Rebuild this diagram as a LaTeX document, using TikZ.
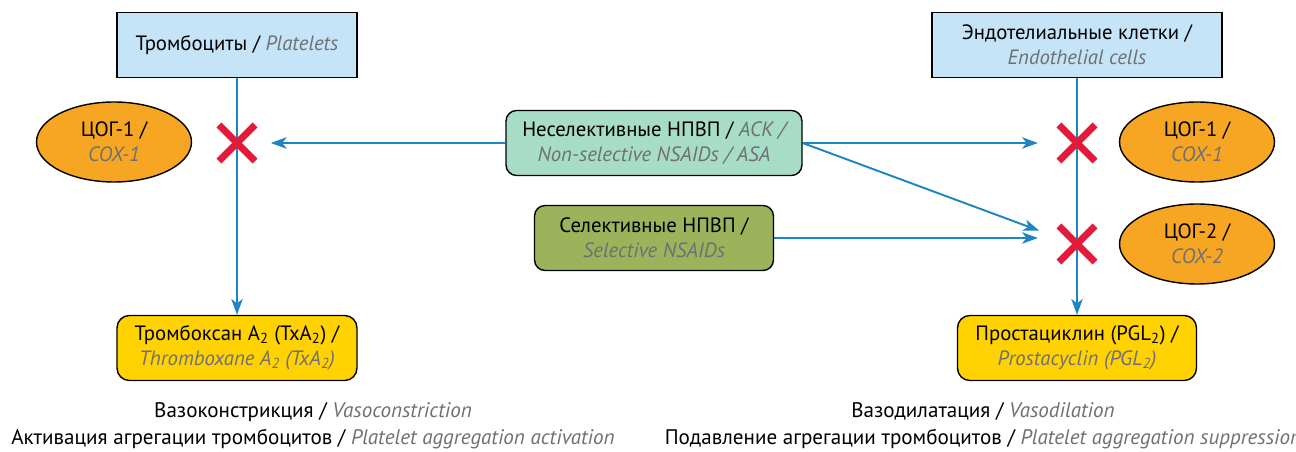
\documentclass[tikz,border=0pt]{standalone}
\usepackage{fontspec}
\setmainfont{PT Sans}
\usetikzlibrary{shapes,arrows.meta,positioning,calc}

\definecolor{cellblue}{HTML}{C6E4F7}
\definecolor{nonselgreen}{HTML}{A7DCC7}
\definecolor{selolive}{HTML}{9CB35C}
\definecolor{enzorange}{HTML}{F6A623}
\definecolor{prodyellow}{HTML}{FFD200}
\definecolor{blockred}{HTML}{E31B3A}
\definecolor{flowblue}{HTML}{1D86C2}
\definecolor{engray}{HTML}{6F7073}

\newcommand{\entext}[1]{{\color{engray}\itshape #1}}

\pgfdeclarelayer{bg}
\pgfsetlayers{bg,main}

\begin{document}
\begin{tikzpicture}[
    x=0.02cm, y=-0.02cm,
    cellbox/.style={rectangle, draw, line width=0.8pt, fill=cellblue, minimum width=4.8cm, minimum height=1.3cm, align=center},
    drugbox/.style={rectangle, draw, line width=0.8pt, rounded corners=6pt, minimum height=1.3cm, align=center},
    outbox/.style={rectangle, draw, line width=0.8pt, rounded corners=7pt, fill=prodyellow, minimum width=4.8cm, minimum height=1.3cm, align=center},
    enzyme/.style={ellipse, draw, line width=0.8pt, fill=enzorange, minimum width=3.1cm, minimum height=1.6cm, align=center, inner sep=0pt},
    block/.style={cross out, draw=blockred, line width=4pt, minimum size=0.58cm, inner sep=0pt},
    arrow/.style={-{Stealth[length=9pt,width=6.5pt,inset=2.5pt]}, flowblue, line width=1.1pt},
    effect/.style={align=center, font=\fontsize{12}{15.3}\selectfont},
    every node/.style={font=\fontsize{11.8}{14.2}\selectfont}
]
\useasboundingbox (0,0) rectangle (1296,452);

% Left: platelets
\node[cellbox] (platelets) at (237,45) {Тромбоциты / \entext{Platelets}};
\node[enzyme] (cox1l) at (114,142) {ЦОГ-1 /\\\entext{COX-1}};
\node[block] (xl) at (237,143) {};
\node[outbox] (txa) at (237,348) {Тромбоксан A\textsubscript{2} (TxA\textsubscript{2}) /\\\entext{Thromboxane A\textsubscript{2} (TxA\textsubscript{2})}};

% Middle: drugs
\node[drugbox, fill=nonselgreen, minimum width=5.92cm] (nonsel) at (654,143) {Неселективные НПВП / \entext{АСК /}\\\entext{Non-selective NSAIDs / ASA}};
\node[drugbox, fill=selolive, minimum width=4.78cm] (sel) at (654,238) {Селективные НПВП /\\\entext{Selective NSAIDs}};

% Right: endothelium
\node[cellbox, minimum width=5.8cm] (endo) at (1077,45) {Эндотелиальные клетки /\\\entext{Endothelial cells}};
\node[enzyme] (cox1r) at (1197,142) {ЦОГ-1 /\\\entext{COX-1}};
\node[enzyme] (cox2r) at (1197,244) {ЦОГ-2 /\\\entext{COX-2}};
\node[block] (xr1) at (1077,143) {};
\node[block] (xr2) at (1077,244) {};
\node[outbox, minimum width=4.78cm] (pgl) at (1077,348) {Простациклин (PGL\textsubscript{2}) /\\\entext{Prostacyclin (PGL\textsubscript{2})}};
\coordinate (xr2in) at (sel.east -| xr2.west);

% Effects
\node[effect] (effl) at (313,426) {Вазоконстрикция / \entext{Vasoconstriction}\\Активация агрегации тромбоцитов / \entext{Platelet aggregation activation}};
\node[effect] (effr) at (983,426) {Вазодилатация / \entext{Vasodilation}\\Подавление агрегации тромбоцитов / \entext{Platelet aggregation suppression}};

% Connectors under the crosses
\begin{pgfonlayer}{bg}
\draw[arrow] (platelets) -- (txa);
\draw[arrow] (endo) -- (pgl);
\draw[arrow, shorten >=9pt] (nonsel) -- (xl);
\draw[arrow, shorten >=12pt] (nonsel) -- (xr1);
\draw[arrow, shorten >=12pt] (nonsel.east) -- (xr2in);
\draw[arrow, shorten >=12pt] (sel) -- (xr2in);
\end{pgfonlayer}

\end{tikzpicture}
\end{document}
